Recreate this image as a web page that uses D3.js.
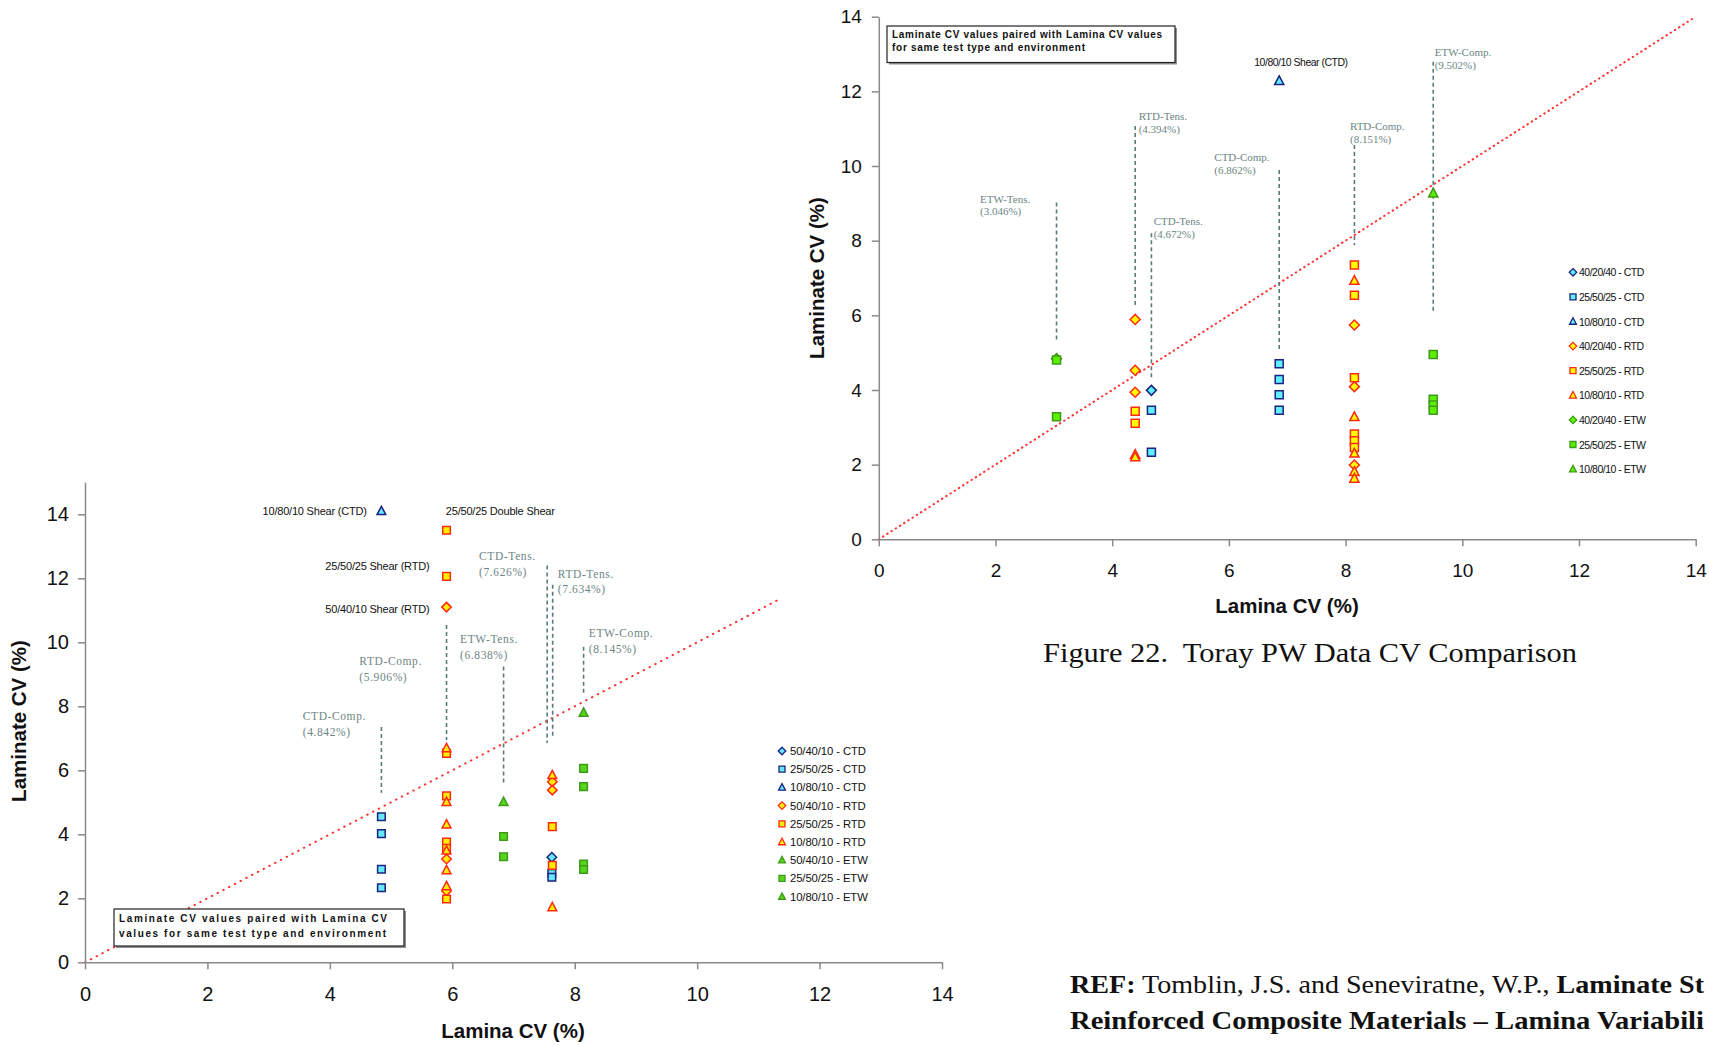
<!DOCTYPE html>
<html>
<head>
<meta charset="utf-8">
<script src="https://cdn.jsdelivr.net/npm/d3@7"></script>
<style>
  body { margin: 0; background: #fff; }
  svg { display: block; }
  .tick text { font-family: "Liberation Sans", Arial, sans-serif; fill: #111; }
  .axis path, .axis line { stroke: #8a8a8a; stroke-width: 1.5; }
</style>
</head>
<body>
<svg id="chart" width="1709" height="1045"></svg>
<script>
// ---- left figure (lamina CV vs laminate CV, first material) ----
var leftLegend = ["50/40/10 - CTD", "25/50/25 - CTD", "10/80/10 - CTD",
                  "50/40/10 - RTD", "25/50/25 - RTD", "10/80/10 - RTD",
                  "50/40/10 - ETW", "25/50/25 - ETW", "10/80/10 - ETW"];
var leftShapes = ["diamond", "square", "triangle", "diamond", "square", "triangle", "triangle", "square", "triangle"];
var leftValues = [
  [[7.626, 3.28]],
  [[4.842, 4.55], [4.842, 4.02], [4.842, 2.91], [4.842, 2.33], [7.626, 2.78], [7.626, 2.66]],
  [[4.842, 14.1]],
  [[5.906, 11.1], [5.906, 3.23], [5.906, 2.23], [7.634, 5.64], [7.634, 5.38]],
  [[5.906, 13.5], [5.906, 12.06], [5.906, 6.53], [5.906, 5.2], [5.906, 3.76], [5.906, 3.56], [5.906, 1.98], [7.634, 4.24], [7.634, 3.03]],
  [[5.906, 6.69], [5.906, 5.01], [5.906, 4.31], [5.906, 3.49], [5.906, 2.88], [5.906, 2.38], [7.634, 5.85], [7.634, 1.72]],
  [],
  [[6.838, 3.93], [6.838, 3.30], [8.145, 6.06], [8.145, 5.49], [8.145, 3.07], [8.145, 2.90]],
  [[6.838, 5.01], [8.145, 7.80]]
];
var leftTests = [["CTD-Comp.", "(4.842%)", 3.557, 7.57], ["RTD-Comp.", "(5.906%)", 4.482, 9.29],
                 ["ETW-Tens.", "(6.838%)", 6.127, 9.97], ["CTD-Tens.", "(7.626%)", 6.438, 12.57],
                 ["RTD-Tens.", "(7.634%)", 7.724, 12.02], ["ETW-Comp.", "(8.145%)", 8.23, 10.16]];
var leftDrops = [[4.842, 7.35, 5.3], [5.906, 10.54, 6.95], [6.838, 9.24, 5.6],
                 [7.55, 12.4, 6.85], [7.64, 11.8, 7.0], [8.145, 9.86, 8.4]];
var leftShear = [["10/80/10 Shear (CTD)", 4.603, 13.98, "end"], ["25/50/25 Double Shear", 5.894, 13.98, "start"],
                 ["25/50/25 Shear (RTD)", 5.626, 12.26, "end"], ["50/40/10 Shear (RTD)", 5.626, 10.91, "end"]];

// ---- right figure (Figure 22, Toray PW) ----
var rightLegend = ["40/20/40 - CTD", "25/50/25 - CTD", "10/80/10 - CTD",
                   "40/20/40 - RTD", "25/50/25 - RTD", "10/80/10 - RTD",
                   "40/20/40 - ETW", "25/50/25 - ETW", "10/80/10 - ETW"];
var rightShapes = ["diamond", "square", "triangle", "diamond", "square", "triangle", "diamond", "square", "triangle"];
var rightValues = [
  [[4.672, 3.99]],
  [[4.672, 3.46], [4.672, 2.33], [6.862, 4.70], [6.862, 4.28], [6.862, 3.87], [6.862, 3.46]],
  [[6.862, 12.28]],
  [[4.394, 5.89], [4.394, 4.53], [4.394, 3.94], [8.151, 5.74], [8.151, 4.09], [8.151, 1.99]],
  [[4.394, 3.43], [4.394, 3.11], [8.151, 7.35], [8.151, 6.54], [8.151, 4.33], [8.151, 2.82], [8.151, 2.64], [8.151, 2.46]],
  [[4.394, 2.27], [4.394, 2.20], [8.151, 6.93], [8.151, 3.28], [8.151, 2.30], [8.151, 1.81], [8.151, 1.63]],
  [[3.046, 4.84]],
  [[3.046, 4.80], [3.046, 3.28], [9.502, 4.95], [9.502, 3.75], [9.502, 3.60], [9.502, 3.46]],
  [[9.502, 9.27]]
];
var rightTests = [["ETW-Tens.", "(3.046%)", 1.734, 9.02], ["RTD-Tens.", "(4.394%)", 4.454, 11.23],
                  ["CTD-Comp.", "(6.862%)", 5.75, 10.13], ["CTD-Tens.", "(4.672%)", 4.711, 8.42],
                  ["RTD-Comp.", "(8.151%)", 8.075, 10.97], ["ETW-Comp.", "(9.502%)", 9.527, 12.95]];
var rightDrops = [[3.046, 9.02, 5.34], [4.394, 11.07, 6.23], [4.672, 8.2, 4.27],
                  [6.862, 9.89, 5.03], [8.151, 10.56, 7.88], [9.502, 12.79, 6.07]];
var rightShear = [["10/80/10 Shear (CTD)", 6.435, 12.69, "start"]];

var axisTicks = [0, 2, 4, 6, 8, 10, 12, 14];

var svg = d3.select("#chart");
svg.append("rect").attr("width", 1709).attr("height", 1045).attr("fill", "#fff");

var env_styles = {
  CTD: { stroke: "#1a237f", fill: "#66e8ff" },
  RTD: { stroke: "#ff2a10", fill: "#ffee00" },
  ETW: { stroke: "#3f9a1c", fill: "#55d61a" }
};

function shapePath(shape, r) {
  if(shape == "square")
    return "M" + (-r) + "," + (-r) + "h" + 2 * r + "v" + 2 * r + "h" + (-2 * r) + "Z";
  if(shape == "diamond")
    return "M0," + (-r * 1.25) + "L" + r * 1.25 + ",0L0," + r * 1.25 + "L" + (-r * 1.25) + ",0Z";
  var h = r * 1.15;
  return "M0," + (-h * 1.1) + "L" + h + "," + h * 0.8 + "L" + (-h) + "," + h * 0.8 + "Z";
}

function envOf(name) { return name.slice(-3); }

function drawPanel(o) {
  var g = svg.append("g");

  // dotted 1:1 line
  g.append("line")
    .attr("x1", o.x(0)).attr("y1", o.y(0))
    .attr("x2", o.x(o.diagEnd)).attr("y2", o.y(o.diagEnd))
    .attr("stroke", "#ff3030").attr("stroke-width", 2)
    .attr("stroke-dasharray", o.dotDash).attr("stroke-linecap", "round");

  // dashed drop lines from the lamina CV labels
  g.selectAll(".drop").data(o.drops).enter().append("line")
    .attr("x1", function(d) { return o.x(d[0]); })
    .attr("x2", function(d) { return o.x(d[0]); })
    .attr("y1", function(d) { return o.y(d[1]); })
    .attr("y2", function(d) { return o.y(d[2]); })
    .attr("stroke", "#5b7b7b").attr("stroke-width", 1.6)
    .attr("stroke-dasharray", "4,3");

  var tl = g.selectAll(".test").data(o.tests).enter().append("text")
    .attr("x", function(d) { return o.x(d[2]); })
    .attr("y", function(d) { return o.y(d[3]); })
    .attr("font-family", "'Liberation Serif', 'Times New Roman', serif")
    .attr("font-size", o.testFont).attr("letter-spacing", o.testSpacing)
    .attr("fill", "#6d8585");
  tl.append("tspan").text(function(d) { return d[0]; });
  tl.append("tspan")
    .attr("x", function(d) { return o.x(d[2]); })
    .attr("dy", o.testLine)
    .text(function(d) { return d[1]; });

  g.selectAll(".shear").data(o.shear).enter().append("text")
    .attr("x", function(d) { return o.x(d[1]); })
    .attr("y", function(d) { return o.y(d[2]); })
    .attr("text-anchor", function(d) { return d[3]; })
    .attr("font-family", "'Liberation Sans', Arial, sans-serif")
    .attr("font-size", o.shearFont).attr("letter-spacing", o.shearSpacing)
    .attr("fill", "#111")
    .text(function(d) { return d[0]; });

  // axes
  var ya = g.append("g").attr("class", "axis")
    .attr("transform", "translate(" + o.x(0) + ",0)")
    .call(d3.axisLeft(o.y).tickValues(axisTicks).tickSize(7).tickSizeOuter(0).tickPadding(o.yPad));
  ya.selectAll("text").attr("font-size", o.tickFont);
  var xa = g.append("g").attr("class", "axis")
    .attr("transform", "translate(0," + o.y(0) + ")")
    .call(d3.axisBottom(o.x).tickValues(axisTicks).tickSize(7).tickSizeOuter(0).tickPadding(o.xPad));
  xa.selectAll("text").attr("font-size", o.tickFont);

  // points
  o.names.forEach(function(name, i) {
    var st = env_styles[envOf(name)];
    g.selectAll(null).data(o.values[i]).enter().append("path")
      .attr("d", shapePath(o.shapes[i], o.markR))
      .attr("transform", function(d) { return "translate(" + o.x(d[0]) + "," + o.y(d[1]) + ")"; })
      .attr("fill", o.fills ? o.fills[envOf(name)] : st.fill)
      .attr("stroke", st.stroke).attr("stroke-width", 1.5);
  });

  // legend
  var lg = g.append("g").attr("transform", "translate(" + o.legend[0] + "," + o.legend[1] + ")");
  var row = lg.selectAll("g").data(o.names).enter().append("g")
    .attr("transform", function(d, i) { return "translate(0," + i * o.legend[2] + ")"; });
  row.append("path")
    .attr("d", function(d, i) { return shapePath(o.shapes[i], 3); })
    .attr("fill", function(d) { return o.fills ? o.fills[envOf(d)] : env_styles[envOf(d)].fill; })
    .attr("stroke", function(d) { return env_styles[envOf(d)].stroke; })
    .attr("stroke-width", 1.3);
  row.append("text")
    .attr("x", o.legend[3]).attr("y", 4)
    .attr("font-family", "'Liberation Sans', Arial, sans-serif")
    .attr("font-size", o.legendFont).attr("letter-spacing", o.legendSpacing)
    .attr("fill", "#111")
    .text(function(d) { return d; });

  // note box
  var b = o.box;
  g.append("rect").attr("x", b[0] + 2).attr("y", b[1] + 2).attr("width", b[2]).attr("height", b[3])
    .attr("fill", "#8f8f8f");
  g.append("rect").attr("x", b[0]).attr("y", b[1]).attr("width", b[2]).attr("height", b[3])
    .attr("fill", "#fff").attr("stroke", "#222").attr("stroke-width", 1.2);
  o.boxLines.forEach(function(t, i) {
    g.append("text")
      .attr("x", b[0] + 5).attr("y", b[1] + b[4] + i * b[5])
      .attr("font-family", "'Liberation Sans', Arial, sans-serif")
      .attr("font-weight", "bold").attr("font-size", 10)
      .attr("textLength", o.boxWidths[i]).attr("lengthAdjust", "spacing")
      .attr("fill", "#111").text(t);
  });

  // axis titles
  g.append("text")
    .attr("x", o.xTitle[0]).attr("y", o.xTitle[1])
    .attr("text-anchor", "middle")
    .attr("font-family", "'Liberation Sans', Arial, sans-serif")
    .attr("font-weight", "bold").attr("font-size", o.titleFont).attr("fill", "#111")
    .text("Lamina CV (%)");
  g.append("text")
    .attr("transform", "translate(" + o.yTitle[0] + "," + o.yTitle[1] + ") rotate(-90)")
    .attr("text-anchor", "middle")
    .attr("font-family", "'Liberation Sans', Arial, sans-serif")
    .attr("font-weight", "bold").attr("font-size", o.titleFont).attr("fill", "#111")
    .text("Laminate CV (%)");
}

drawPanel({
  x: d3.scaleLinear().domain([0, 14]).range([85, 942]),
  y: d3.scaleLinear().domain([0, 15]).range([962.3, 482.3]),
  names: leftLegend, shapes: leftShapes, values: leftValues,
  tests: leftTests, drops: leftDrops, shear: leftShear,
  diagEnd: 11.3, dotDash: "0.5,6",
  testFont: 11.5, testSpacing: 0.6, testLine: 15.5,
  shearFont: 11, shearSpacing: -0.2,
  tickFont: 20, yPad: 9, xPad: 18,
  markR: 3.8,
  legend: [782, 751, 18.2, 8], legendFont: 11.3, legendSpacing: -0.1,
  box: [114, 909, 290, 37, 13, 15],
  boxLines: ["Laminate CV values paired with Lamina CV", "values for same test type and environment"],
  boxWidths: [268, 267],
  xTitle: [513, 1038], yTitle: [26, 721], titleFont: 20.5
});

drawPanel({
  x: d3.scaleLinear().domain([0, 14]).range([878.8, 1695.7]),
  y: d3.scaleLinear().domain([0, 14]).range([539.3, 16.7]),
  names: rightLegend, shapes: rightShapes, values: rightValues,
  tests: rightTests, drops: rightDrops, shear: rightShear,
  diagEnd: 14, dotDash: "0.5,4.5",
  testFont: 11, testSpacing: 0, testLine: 12.7,
  shearFont: 10.5, shearSpacing: -0.5,
  tickFont: 19, yPad: 10, xPad: 17,
  markR: 4,
  legend: [1573, 272.3, 24.6, 6], legendFont: 10.5, legendSpacing: -0.5,
  box: [887, 26, 288, 36.5, 12, 13.3],
  boxLines: ["Laminate CV values paired with Lamina CV values", "for same test type and environment"],
  boxWidths: [270, 193],
  xTitle: [1287, 613], yTitle: [824, 278], titleFont: 20.5,
  fills: { CTD: "#5fefff", RTD: "#ffff00", ETW: "#5cf000" }
});

// caption and reference
svg.append("text")
  .attr("x", 1043).attr("y", 662)
  .attr("font-family", "'Liberation Serif', 'Times New Roman', serif")
  .attr("font-size", 28).attr("fill", "#111")
  .attr("textLength", 534).attr("lengthAdjust", "spacingAndGlyphs")
  .text("Figure 22.\u00a0 Toray PW Data CV Comparison");

// the reference lines run past the page edge in the source; only the visible part is kept
var ref = svg.append("text")
  .attr("x", 1070).attr("y", 993)
  .attr("font-family", "'Liberation Serif', 'Times New Roman', serif")
  .attr("font-size", 26).attr("fill", "#111")
  .attr("textLength", 634).attr("lengthAdjust", "spacingAndGlyphs");
ref.append("tspan").attr("font-weight", "bold").text("REF:");
ref.append("tspan").text(" Tomblin, J.S. and Seneviratne, W.P., ");
ref.append("tspan").attr("font-weight", "bold").text("Laminate St");
svg.append("text")
  .attr("x", 1070).attr("y", 1029)
  .attr("font-family", "'Liberation Serif', 'Times New Roman', serif")
  .attr("font-size", 26).attr("font-weight", "bold").attr("fill", "#111")
  .attr("textLength", 634).attr("lengthAdjust", "spacingAndGlyphs")
  .text("Reinforced Composite Materials \u2013 Lamina Variabili");
</script>
</body>
</html>
